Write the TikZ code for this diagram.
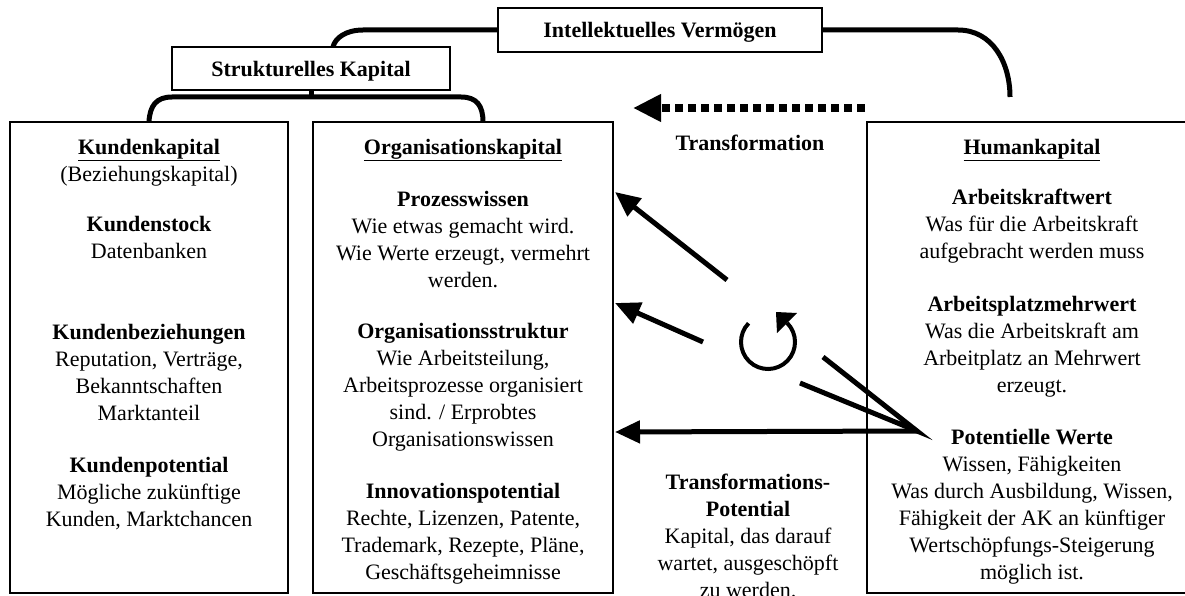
\documentclass[tikz,border=0pt]{standalone}
\usepackage{fontspec}
\setmainfont{Liberation Serif}
\usetikzlibrary{arrows.meta}
\begin{document}
\begin{tikzpicture}[x=1pt,y=-1pt,
  frame/.style={draw, line width=1.3pt, inner sep=0pt, minimum height=471pt},
  title/.style={draw, line width=1.3pt, inner sep=0pt, text depth=0pt, font=\fontsize{22}{27}\selectfont\bfseries},
  txt/.style={font=\fontsize{22}{27}\selectfont, align=center, inner sep=0pt,
    execute at begin node=\strut, execute at end node=\strut},
  conn/.style={line width=5pt},
  arr/.style={line width=5pt, -{Triangle[length=25pt,width=22pt]}}]
\useasboundingbox (0,0) rectangle (1185,596);

% main boxes
\node[frame, minimum width=278pt] (kunden) at (149,357.5) {};
\node[frame, minimum width=300pt] (org) at (463,357.5) {};
\node[frame, minimum width=330pt] (human) at (1032,357.5) {};

% title boxes
\node[title, minimum width=278pt, minimum height=43pt] (struct) at (311,68.5) {Strukturelles Kapital};
\node[title, minimum width=324pt, minimum height=44pt] (intell) at (660,30) {Intellektuelles Vermögen};

% texts
\node[txt] (k1) at (149,164) {\underline{\textbf{Kundenkapital}}\\(Beziehungskapital)};
\node[txt] (k2) at (149,241) {\textbf{Kundenstock}\\Datenbanken};
\node[txt] (k3) at (149,376) {\textbf{Kundenbeziehungen}\\Reputation, Verträge,\\Bekanntschaften\\Marktanteil};
\node[txt] (k4) at (149,496) {\textbf{Kundenpotential}\\Mögliche zukünftige\\Kunden, Marktchancen};

\node[txt] (o1) at (463,149) {\underline{\textbf{Organisationskapital}}};
\node[txt] (o2) at (463,243) {\textbf{Prozesswissen}\\Wie etwas gemacht wird.\\Wie Werte erzeugt, vermehrt\\werden.};
\node[txt] (o3) at (463,389) {\textbf{Organisationsstruktur}\\Wie Arbeitsteilung,\\Arbeitsprozesse organisiert\\sind. / Erprobtes\\Organisationswissen};
\node[txt] (o4) at (463,535) {\textbf{Innovationspotential}\\Rechte, Lizenzen, Patente,\\Trademark, Rezepte, Pläne,\\Geschäftsgeheimnisse};

\node[txt] (h1) at (1032,149) {\underline{\textbf{Humankapital}}};
\node[txt] (h2) at (1032,228) {\textbf{Arbeitskraftwert}\\Was für die Arbeitskraft\\aufgebracht werden muss};
\node[txt] (h3) at (1032,348) {\textbf{Arbeitsplatzmehrwert}\\Was die Arbeitskraft am\\Arbeitplatz an Mehrwert\\erzeugt.};
\node[txt] (h4) at (1032,508) {\textbf{Potentielle Werte}\\Wissen, Fähigkeiten\\Was durch Ausbildung, Wissen,\\Fähigkeit der AK an künftiger\\Wertschöpfungs-Steigerung\\möglich ist.};

\node[txt] (tr) at (750,145) {\textbf{Transformation}};
\node[txt] (tp) at (748,540) {\textbf{Transformations-}\\\textbf{Potential}\\Kapital, das darauf\\wartet, ausgeschöpft\\zu werden.};

% coordinates
\coordinate (sc) at (333,47);
\coordinate (hk) at (1010,97);
\coordinate (br) at (483,122);
\coordinate (ds) at (865,108);
\coordinate (de) at (633,108);
\coordinate (pw) at (917,431);
\coordinate (a1s) at (727,280);
\coordinate (a1e) at (615,192);
\coordinate (a2s) at (703,342);
\coordinate (a2e) at (615,303);
\coordinate (a3e) at (615,432);
\coordinate (l1) at (823,357);
\coordinate (l2) at (800,383);

% top connectors
\draw[conn] (intell.west) -- (363,30) .. controls (346,30) and (335,38) .. (sc);
\draw[conn] (intell.east) -- (958,30) .. controls (992,30) and (1010,62) .. (hk);
\draw[conn] (struct.south) -- (311,97);
\draw[conn] (kunden.north) .. controls (150,106) and (156,97) .. (172,97) -- (461,97) .. controls (477,97) and (483,106) .. (br);

% transformation dashed arrow
\draw[line width=8pt, dash pattern=on 8pt off 5pt, -{Triangle[length=28pt,width=26pt]}] (ds) -- (de);

% arrows
\draw[arr] (a1s) -- (a1e);
\draw[arr] (a2s) -- (a2e);
\draw[arr] (pw) -- (a3e);
\draw[conn, miter limit=20] (l1) -- (pw) -- (l2);

% circular arrow
\draw[line width=4pt] (768,342) ++(-136:27) arc[start angle=-136, end angle=-405, radius=27];
\fill (776,312) -- (797,313) -- (777,333) -- cycle;
\end{tikzpicture}
\end{document}
